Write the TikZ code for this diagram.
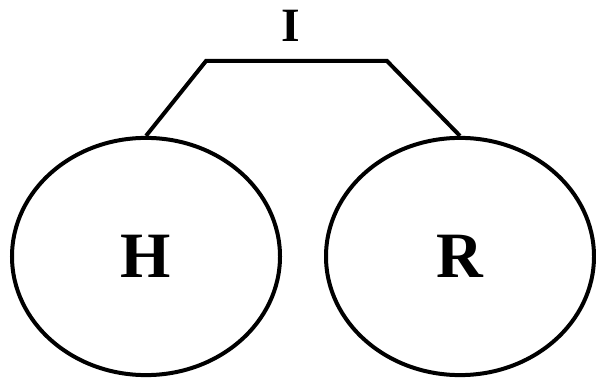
\documentclass[tikz,border=0pt]{standalone}
\usepackage{fontspec}
\setmainfont{Liberation Serif}
\usetikzlibrary{shapes.geometric, positioning}

\begin{document}
\begin{tikzpicture}[
    party/.style={ellipse, draw=black, line width=0.1cm, inner sep=0pt,
                  minimum width=6.7cm, minimum height=5.93cm,
                  font=\fontsize{46}{50}\selectfont\bfseries},
    link/.style={line width=0.1cm, line join=miter},
]
\useasboundingbox (0,0) rectangle (14.9,9.525);

% the two parties
\node[party] (h) at (3.65,3.1125) {H};
\node[party] (r) at (11.5,3.1125) {R};

% bracket joining them
\coordinate (lc) at (5.15,8.0);
\coordinate (rc) at (9.675,8.0);
\draw[link] (h.north) -- (lc) -- (rc) -- (r.north);

\node[anchor=base, font=\fontsize{34}{38}\selectfont\bfseries]
     (ilab) at (7.275,8.475) {I};

\end{tikzpicture}
\end{document}
